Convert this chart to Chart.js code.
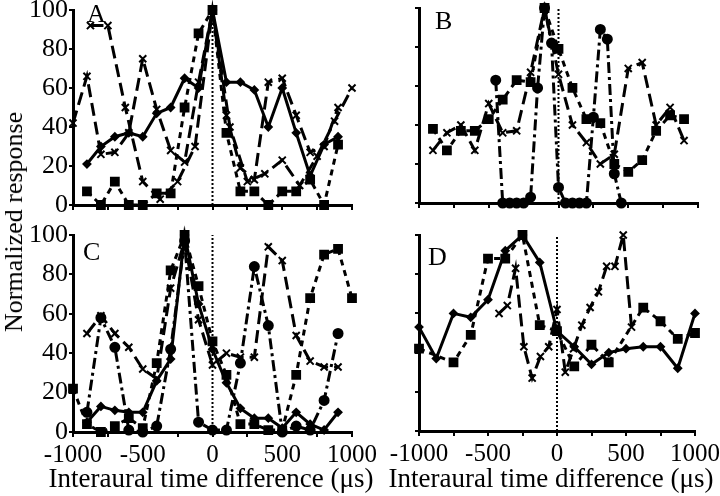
<!DOCTYPE html>
<html>
<head>
<meta charset="utf-8">
<script src="https://cdn.jsdelivr.net/npm/chart.js@4.4.0/dist/chart.umd.min.js"></script>
<style>
  body { margin: 0; background: #fff; width: 720px; height: 496px; position: relative; overflow: hidden; font-family: "Liberation Serif", "Times New Roman", serif; color: #000; }
  .panel { position: absolute; }
  #ylab { position: absolute; left: 14px; top: 222px; transform: translate(-50%, -50%) rotate(-90deg); font-size: 26px; white-space: nowrap; }
  .xlab { position: absolute; top: 478px; transform: translate(-50%, -50%); font-size: 27px; white-space: nowrap; }
</style>
</head>
<body>
<div class="panel" style="left:0;top:0;width:360px;height:215px"><canvas id="panelA"></canvas></div>
<div class="panel" style="left:360px;top:0;width:360px;height:215px"><canvas id="panelB"></canvas></div>
<div class="panel" style="left:0;top:215px;width:385px;height:281px"><canvas id="panelC"></canvas></div>
<div class="panel" style="left:360px;top:215px;width:360px;height:281px"><canvas id="panelD"></canvas></div>
<div id="ylab">Normalized response</div>
<div class="xlab" style="left:211px">Interaural time difference (&#956;s)</div>
<div class="xlab" style="left:551px">Interaural time difference (&#956;s)</div>
<script>
// ITD values (µs) and normalized responses
const aSolidX = [-900,-800,-700,-600,-500,-400,-300,-200,-100,0,100,200,300,400,500,600,700,800,900];
const aSolidY = [21,30,35,37,35,47,50,65,60,100,63,63,59,40,60,37,15,31,35];
const aSquareY = [7,0,12,0,0,6,6,50,88,100,37,7,7,0,7,7,13,0,31];
const aCross1X = [-1000,-900,-800,-700,-600,-500,-400,-300,-200,-100,0,100,200,300,400,500,600,700,800,900];
const aCross1Y = [42,66,26,27,37,75,49,28,22,63,100,46,19,13,63,65,46,27,30,50];
const aCross2X = [-875,-750,-625,-500,-375,-250,-125,0,125,250,375,500,625,750,875,1000];
const aCross2Y = [92,92,50,12,3,12,30,100,40,12,16,23,10,25,43,60];

const bX = [-900,-800,-700,-600,-500,-400,-300,-200,-100,0,100,200,300,400,500,600,700,800,900];
const bSquareY = [38,27,37,37,43,53,63,62,100,79,59,43,41,20,16,22,37,45,43];
const bCrossY = [27,36,40,27,51,36,37,67,100,66,40,31,20,25,69,72,40,49,32];
const bCircleX = [-450,-400,-350,-300,-250,-200,-150,-100,-50,0,50,100,150,200,250,300,350,400,450];
const bCircleY = [63,0,0,0,0,3,59,100,82,8,0,0,0,0,44,89,84,15,0];

const cSquareX = [-1000,-900,-800,-700,-600,-500,-400,-300,-200,-100,0,100,200,300,400,500,600,700,800,900,1000];
const cSquareY = [22,4,0,3,7,2,35,82,100,74,46,29,4,4,1,1,29,68,90,93,68];
const cX = [-900,-800,-700,-600,-500,-400,-300,-200,-100,0,100,200,300,400,500,600,700,800,900];
const cSolidY = [5,13,11,10,10,26,37,100,65,42,25,12,7,7,2,10,4,1,10];
const cCrossY = [50,59,50,43,32,27,73,97,57,34,40,38,38,94,87,49,36,33,33];
const cCircleY = [10,58,43,1,0,3,42,97,5,1,1,35,84,54,0,3,1,16,50];

const dSolidX = [-1000,-875,-750,-625,-500,-375,-250,-125,0,125,250,375,500,625,750,875,1000];
const dSolidY = [53,37,60,58,67,92,100,86,51,43,34,40,42,43,43,32,60];
const dSquareX = [-1000,-750,-625,-500,-375,-250,-125,0,125,250,375,625,750,875,1000];
const dSquareY = [42,35,49,88,88,100,54,51,33,44,35,63,56,47,50];
const dCrossX = [-420,-360,-300,-240,-180,-120,-60,0,60,120,180,240,300,360,420,480,540];
const dCrossY = [60,64,83,43,27,38,43,62,30,42,54,63,71,84,84,100,53];

const xTicks = [-1000,-750,-500,-250,0,250,500,750,1000];
const xTickLabels = [-1000, -500, 0, 500, 1000];
const yTicks = [0, 20, 40, 60, 80, 100];

const FONT = '"Liberation Serif", "Times New Roman", serif';
Chart.defaults.font.family = FONT;
Chart.defaults.color = '#000';

const styles = {
  solid:  { borderDash: [],            pointStyle: 'rectRot',  pointRadius: 3.5 },
  cross:  { borderDash: [13, 6],       pointStyle: 'crossRot', pointRadius: 5 },
  circle: { borderDash: [11, 4, 3, 4], pointStyle: 'circle',   pointRadius: 4.5 },
  square: { borderDash: [6, 5],        pointStyle: 'rect',     pointRadius: 5.5 }
};

function series(xs, ys, kind) {
  const s = styles[kind];
  return {
    data: xs.map((x, i) => ({ x: x, y: ys[i] })),
    borderColor: '#000',
    backgroundColor: '#000',
    borderWidth: 3,
    borderDash: s.borderDash,
    pointStyle: s.pointStyle,
    pointRadius: s.pointRadius,
    pointBorderWidth: 2,
    tension: 0,
    clip: false
  };
}

function zeroLine() {
  return {
    data: [{ x: 0, y: 0 }, { x: 0, y: 100 }],
    borderColor: '#000',
    borderWidth: 2,
    borderDash: [2, 2],
    pointRadius: 0,
    order: 10
  };
}

const panelLetter = {
  id: 'panelLetter',
  afterDraw(chart, args, opts) {
    const { ctx, chartArea } = chart;
    ctx.save();
    ctx.font = '26px ' + FONT;
    ctx.fillStyle = '#000';
    ctx.textBaseline = 'alphabetic';
    ctx.fillText(opts.text, chartArea.left + opts.dx, chartArea.top + opts.dy);
    ctx.restore();
  }
};

function makePanel(id, cfg) {
  new Chart(id, {
    type: 'line',
    data: { datasets: cfg.datasets },
    plugins: [panelLetter],
    options: {
      responsive: true,
      maintainAspectRatio: false,
      animation: false,
      layout: { padding: cfg.padding },
      plugins: {
        legend: { display: false },
        tooltip: { enabled: false },
        panelLetter: cfg.letter
      },
      scales: {
        x: {
          type: 'linear',
          min: -1000,
          max: 1000,
          afterFit: s => { s.height = cfg.xHeight; s.paddingLeft = 0; s.paddingRight = 0; },
          afterBuildTicks: s => { s.ticks = xTicks.map(v => ({ value: v })); },
          ticks: {
            display: cfg.xLabels,
            autoSkip: false,
            maxRotation: 0,
            padding: 3,
            font: { size: 25 },
            callback: v => xTickLabels.includes(v) ? String(v) : ''
          },
          grid: { drawOnChartArea: false, drawTicks: true, tickLength: 5, color: '#000', lineWidth: 2 },
          border: { color: '#000', width: 3 }
        },
        y: {
          min: 0,
          max: 100,
          afterFit: s => { s.width = cfg.yWidth; s.paddingTop = 0; s.paddingBottom = 0; },
          afterBuildTicks: s => { s.ticks = yTicks.map(v => ({ value: v })); },
          ticks: { display: cfg.yLabels, padding: 1, font: { size: 26 } },
          grid: { drawOnChartArea: false, drawTicks: true, tickLength: 4, color: '#000', lineWidth: 2 },
          border: { color: '#000', width: 3 }
        }
      }
    }
  });
}

makePanel('panelA', {
  datasets: [zeroLine(), series(aSolidX, aSolidY, 'solid'), series(aSolidX, aSquareY, 'square'),
             series(aCross1X, aCross1Y, 'cross'), series(aCross2X, aCross2Y, 'cross')],
  padding: { top: 10, right: 8, left: 0, bottom: 0 },
  xHeight: 10, yWidth: 73, xLabels: false, yLabels: true,
  letter: { text: 'A', dx: 14, dy: 12 }
});

makePanel('panelB', {
  datasets: [zeroLine(), series(bX, bSquareY, 'square'), series(bX, bCrossY, 'cross'),
             series(bCircleX, bCircleY, 'circle')],
  padding: { top: 8, right: 22, left: 0, bottom: 0 },
  xHeight: 12, yWidth: 59, xLabels: false, yLabels: false,
  letter: { text: 'B', dx: 16, dy: 21 }
});

makePanel('panelC', {
  datasets: [zeroLine(), series(cX, cSolidY, 'solid'), series(cSquareX, cSquareY, 'square'),
             series(cX, cCrossY, 'cross'), series(cX, cCircleY, 'circle')],
  padding: { top: 20, right: 33, left: 0, bottom: 0 },
  xHeight: 64, yWidth: 73, xLabels: true, yLabels: true,
  letter: { text: 'C', dx: 10, dy: 25 }
});

makePanel('panelD', {
  datasets: [zeroLine(), series(dSolidX, dSolidY, 'solid'), series(dSquareX, dSquareY, 'square'),
             series(dCrossX, dCrossY, 'cross')],
  padding: { top: 20, right: 25, left: 0, bottom: 0 },
  xHeight: 65, yWidth: 59, xLabels: true, yLabels: false,
  letter: { text: 'D', dx: 9, dy: 30 }
});
</script>
</body>
</html>
